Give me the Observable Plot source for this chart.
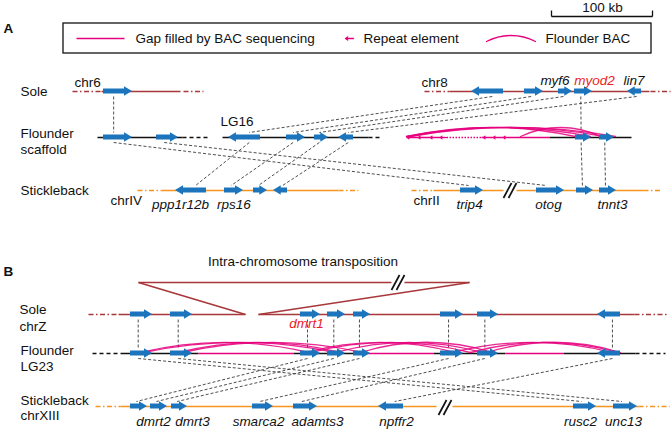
<!DOCTYPE html>
<html><head><meta charset="utf-8">
<script src="https://cdn.jsdelivr.net/npm/d3@7"></script>
<script src="https://cdn.jsdelivr.net/npm/@observablehq/plot@0.6"></script>
<style>body{margin:0;background:#fff}#chart svg{display:block}</style>
</head><body><div id="chart"></div>
<script>
// ---------- tracks (row of each chromosome line) ----------
const trackIds = ["aSole","aFlounder","aStickle","bSole","bFlounder","bStickle"];
const trackY   = [91, 137, 190, 314, 353, 406];
const trackKind = ["sole","flounder","stickle","sole","flounder","stickle"];

// ---------- genes: [start, end, strand] along each track ----------
const genesASole     = [[103,132,1],[471,503,-1],[524,543,1],[558,572,1],[574,592,1],[627,641,-1]];
const genesAFlounder = [[103,132,1],[156,178,1],[228,260,-1],[286,305,1],[314,328,1],[338,353,-1],[575,591,1],[599,614,1]];
const genesAStickle  = [[175,206,-1],[224,243,1],[253,267,1],[273,287,-1],[460,483,1],[536,564,1],[576,593,1],[599,616,1]];
const genesBSole     = [[130,152,1],[170,192,1],[300,320,1],[327,345,1],[353,370,1],[440,463,1],[477,498,1],[597,620,-1]];
const genesBFlounder = [[130,152,1],[170,192,1],[300,320,1],[327,345,1],[353,370,1],[440,463,1],[477,498,1],[597,620,-1]];
const genesBStickle  = [[130,147,1],[150,167,1],[171,187,1],[252,273,1],[293,317,1],[378,403,-1],[573,596,1],[613,637,1]];

// ---------- chromosome segments: [track, from, to, style] ----------
const segments = [
  ["aSole",72,101,"dot"],["aSole",101,180,"solid"],["aSole",183,203,"dot"],
  ["aSole",424,449,"dot"],["aSole",449,649,"solid"],["aSole",650,670,"dot"],
  ["aFlounder",97,182,"solid"],["aFlounder",182,208,"dot"],
  ["aFlounder",222,368,"solid"],["aFlounder",368,381,"dot"],
  ["aFlounder",406,440,"pink"],["aFlounder",440,481,"pinkdot"],["aFlounder",481,549,"pink"],
  ["aFlounder",549,631,"solid"],
  ["aStickle",137,161,"dot"],["aStickle",161,338,"solid"],["aStickle",338,358,"dot"],
  ["aStickle",411,433,"dot"],["aStickle",433,503,"solid"],["aStickle",516,643,"solid"],["aStickle",643,661,"dot"],
  ["bSole",88,118,"dot"],["bSole",118,245,"solid"],["bSole",258,634,"solid"],["bSole",634,666,"dot"],
  ["bFlounder",92,120,"dot"],["bFlounder",120,198,"solid"],["bFlounder",198,293,"pink"],
  ["bFlounder",293,367,"solid"],["bFlounder",367,433,"pink"],["bFlounder",433,505,"solid"],
  ["bFlounder",505,563,"pink"],["bFlounder",563,635,"solid"],["bFlounder",635,665,"dot"],
  ["bStickle",95,120,"dot"],["bStickle",120,436,"solid"],["bStickle",452,638,"solid"],["bStickle",638,669,"dot"]
];

// ---------- synteny links: [fromTrack, geneIdx, toTrack, geneIdx] ----------
const links = [
  ["aSole",0,"aFlounder",0],["aSole",1,"aFlounder",2],["aSole",2,"aFlounder",3],["aSole",3,"aFlounder",4],
  ["aSole",4,"aFlounder",6],["aSole",5,"aFlounder",5],
  ["aFlounder",2,"aStickle",0],["aFlounder",3,"aStickle",1],["aFlounder",4,"aStickle",2],["aFlounder",5,"aStickle",3],
  ["aFlounder",0,"aStickle",4],["aFlounder",1,"aStickle",5],["aFlounder",6,"aStickle",6],["aFlounder",7,"aStickle",7],
  ["bSole",0,"bFlounder",0],["bSole",1,"bFlounder",1],["bSole",2,"bFlounder",2],["bSole",3,"bFlounder",3],
  ["bSole",4,"bFlounder",4],["bSole",5,"bFlounder",5],["bSole",6,"bFlounder",6],["bSole",7,"bFlounder",7],
  ["bFlounder",0,"bStickle",6],["bFlounder",1,"bStickle",7],["bFlounder",2,"bStickle",0],["bFlounder",3,"bStickle",1],
  ["bFlounder",4,"bStickle",2],["bFlounder",5,"bStickle",3],["bFlounder",6,"bStickle",4],["bFlounder",7,"bStickle",5]
];

// ---------- flounder BAC clones: [track, from, to] ----------
const bacs = [
  ["aFlounder",406,575],["aFlounder",406,590],["aFlounder",408,604],["aFlounder",410,615],["aFlounder",520,600],
  ["bFlounder",140,308],["bFlounder",143,335],["bFlounder",178,340],["bFlounder",182,362],
  ["bFlounder",305,455],["bFlounder",310,470],["bFlounder",335,482],["bFlounder",360,492],
  ["bFlounder",452,612],["bFlounder",470,618],["bFlounder",486,620]
];

// ---------- repeat elements on flounder scaffold ----------
const repeatTrack = "aFlounder";
const repeatX = [407,418,430,440,483,493,503];

// ---------- break marks "//": [x, y] ----------
const breaks = [[509.5,190],[397.5,282],[444.5,407]];

// ---------- intra-chromosome transposition outline ----------
const transposition = [[138,282,391,282],[404,282,469,282],[138,282,245,314],[469,282,258,314]];

// ---------- labels: [text, x, y, anchor, style] ----------
const labels = [
  ["A",3,28,"start","bold"],["B",3,271,"start","bold"],
  ["Sole",20,91,"start"],["Flounder",20,133,"start"],["scaffold",20,149,"start"],["Stickleback",20,190,"start"],
  ["chr6",74,82,"start"],["chr8",421,82,"start"],["LG16",220,121,"start"],["chrIV",110,200,"start"],["chrII",413,200,"start"],
  ["Intra-chromosome transposition",302.5,261,"middle"],
  ["Sole",19,309,"start"],["chrZ",19,326,"start"],["Flounder",20,350,"start"],["LG23",20,366,"start"],
  ["Stickleback",20,400,"start"],["chrXIII",20,415,"start"],
  ["Gap filled by BAC sequencing",135,38,"start"],["Repeat element",363,38,"start"],["Flounder BAC",545,38,"start"],
  ["100 kb",602,7.5,"middle"]
];
const geneLabels = [
  ["myf6",554.5,80,"black"],["myod2",594,80,"red"],["lin7",633.5,80,"black"],
  ["ppp1r12b",180,204,"black"],["rps16",233.5,204,"black"],["trip4",469,204,"black"],["otog",548,204,"black"],["tnnt3",612,204,"black"],
  ["dmrt1",306,323,"red"],
  ["dmrt2",153,421,"black"],["dmrt3",192,421,"black"],["smarca2",258,421,"black"],["adamts3",317,421,"black"],
  ["npffr2",396,421,"black"],["rusc2",580,421,"black"],["unc13",623,421,"black"]
];

// ---------- legend & scale bar layout ----------
const legendBox = [63,23,651,53];
const legendGap = [76,124,38];
const legendRepeat = [353,345,38];
const legendBac = [486,535,41];
const scaleBar = [551,652,16,10];

// ---------- styling ----------
const C = {sole:"#a8383b", flounder:"#111111", stickle:"#f7941d", pink:"#e6007e", blue:"#1c75bc", red:"#ed1c24", dash:"#3a3a3a"};
const FONT = "Liberation Sans, Arial, Helvetica, sans-serif";
const FS = 13.5;

const yOf = Object.fromEntries(trackIds.map((id,i)=>[id,trackY[i]]));
const kindOf = Object.fromEntries(trackIds.map((id,i)=>[id,trackKind[i]]));
const genesBy = {aSole:genesASole,aFlounder:genesAFlounder,aStickle:genesAStickle,bSole:genesBSole,bFlounder:genesBFlounder,bStickle:genesBStickle};
const anchor = (id,i) => { const [s,e,d] = genesBy[id][i]; return d > 0 ? s + 0.35*(e-s) : e - 0.35*(e-s); };

// gene arrow outlines
const geneShapes = [];
for (const id of trackIds) genesBy[id].forEach(([s,e,d],i) => {
  const y = yOf[id], h = Math.min(8, (e-s)*0.55), bw = 2.5, hw = 4.8, key = id + i;
  const pts = d > 0
    ? [[s,y-bw,y+bw],[e-h,y-bw,y+bw],[e-h,y-hw,y+hw],[e,y,y]]
    : [[s,y,y],[s+h,y-hw,y+hw],[s+h,y-bw,y+bw],[e,y-bw,y+bw]];
  for (const [x,y1,y2] of pts) geneShapes.push({key,x,y1,y2});
});

const segRows = segments.map(([t,a,b,st]) => ({x1:a,x2:b,y:yOf[t],st,
  color: st.startsWith("pink") ? C.pink : C[kindOf[t]]}));
const linkRows = links.map(([f,i,t,j]) => ({x1:anchor(f,i), y1:yOf[f]+5, x2:anchor(t,j), y2:yOf[t]-5}));

const segMark = (filter, dash) => Plot.link(segRows.filter(filter), {x1:"x1",x2:"x2",y1:"y",y2:"y",stroke:"color",strokeWidth:1.6,strokeDasharray:dash});

const arcMark = (x1,x2,y,h,sw,op) => {
  const bend = 2*Math.atan(2*h/(x2-x1))*180/Math.PI;
  return Plot.arrow([{x1,x2,y}], {x1:"x1",x2:"x2",y1:"y",y2:"y",bend,headLength:0,stroke:C.pink,strokeWidth:sw,strokeOpacity:op});
};

const txt = (rows, opts) => Plot.text(rows, {x:d=>d[1], y:d=>d[2], text:d=>d[0], fontSize:FS, fontFamily:FONT, ...opts});

const marks = [
  // legend box & scale bar
  Plot.rect([legendBox], {x1:d=>d[0],y1:d=>d[1],x2:d=>d[2],y2:d=>d[3],fill:"none",stroke:"#111",strokeWidth:1.3}),
  Plot.link([legendGap], {x1:d=>d[0],x2:d=>d[1],y1:d=>d[2],y2:d=>d[2],stroke:C.pink,strokeWidth:1.6}),
  Plot.arrow([legendRepeat], {x1:d=>d[0],x2:d=>d[1],y1:d=>d[2],y2:d=>d[2],stroke:C.pink,strokeWidth:1.3,headLength:4,headAngle:70}),
  arcMark(legendBac[0],legendBac[1],legendBac[2],6,1.3,1),
  Plot.link([scaleBar], {x1:d=>d[0],x2:d=>d[1],y1:d=>d[2],y2:d=>d[2],stroke:"#111",strokeWidth:1.3}),
  Plot.link([scaleBar], {x1:d=>d[0],x2:d=>d[0],y1:d=>d[2],y2:d=>d[3],stroke:"#111",strokeWidth:1.3}),
  Plot.link([scaleBar], {x1:d=>d[1],x2:d=>d[1],y1:d=>d[2],y2:d=>d[3],stroke:"#111",strokeWidth:1.3}),
  // transposition outline
  Plot.link(transposition, {x1:d=>d[0],y1:d=>d[1],x2:d=>d[2],y2:d=>d[3],stroke:C.sole,strokeWidth:1.6}),
  // synteny dashed links
  Plot.link(linkRows, {x1:"x1",y1:"y1",x2:"x2",y2:"y2",stroke:C.dash,strokeWidth:0.9,strokeDasharray:"3,2"}),
  // chromosome lines
  segMark(d=>d.st==="solid"||d.st==="pink", null),
  segMark(d=>d.st==="dot" && d.color!==C.flounder, "5,2.5,1.5,2.5"),
  segMark(d=>d.st==="dot" && d.color===C.flounder, "4,3"),
  segMark(d=>d.st==="pinkdot", "1.5,1.5"),
  // BAC arcs
  ...bacs.map(([t,a,b]) => arcMark(a,b,yOf[t]-1, t[0]==="a" ? 9 : 10, 1.3, 0.85)),
  // repeat elements
  Plot.arrow(repeatX, {x1:d=>d+6,x2:d=>d,y1:yOf[repeatTrack],y2:yOf[repeatTrack],stroke:C.pink,strokeWidth:1.2,headLength:3.5,headAngle:80}),
  // break marks
  Plot.rect(breaks, {x1:d=>d[0]-5,x2:d=>d[0]+5,y1:d=>d[1]-3,y2:d=>d[1]+3,fill:"white"}),
  Plot.link(breaks, {x1:d=>d[0]-6.5,y1:d=>d[1]+7.5,x2:d=>d[0]+1.5,y2:d=>d[1]-7.5,stroke:"#111",strokeWidth:1.7}),
  Plot.link(breaks, {x1:d=>d[0]-1.5,y1:d=>d[1]+7.5,x2:d=>d[0]+6.5,y2:d=>d[1]-7.5,stroke:"#111",strokeWidth:1.7}),
  // genes
  Plot.area(geneShapes, {x1:"x",y1:"y1",y2:"y2",z:"key",fill:C.blue}),
  // labels
  txt(labels.filter(d=>d[3]==="start" && d[4]!=="bold"), {textAnchor:"start", fill:"#111"}),
  txt(labels.filter(d=>d[3]==="middle"), {textAnchor:"middle", fill:"#111"}),
  txt(labels.filter(d=>d[4]==="bold"), {textAnchor:"start", fontWeight:"bold", fill:"#111"}),
  txt(geneLabels.filter(d=>d[3]==="black"), {textAnchor:"middle", fontStyle:"italic", fill:"#111"}),
  txt(geneLabels.filter(d=>d[3]==="red"), {textAnchor:"middle", fontStyle:"italic", fill:C.red})
];

const chart = Plot.plot({
  width: 672, height: 432, margin: 0,
  x: {domain:[0,672], range:[0,672], axis:null},
  y: {domain:[0,432], range:[0,432], axis:null},
  color: {type:"identity"},
  style: {fontFamily: FONT, background:"white"},
  marks
});
document.getElementById("chart").appendChild(chart);
</script>
</body></html>
